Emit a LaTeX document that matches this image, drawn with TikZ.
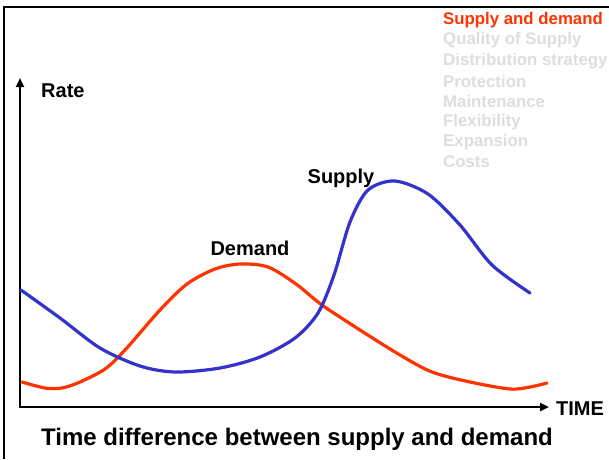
\documentclass[tikz,border=0pt]{standalone}
\usepackage{fontspec}
\setmainfont{Liberation Sans}
\usetikzlibrary{arrows.meta}
\definecolor{demandred}{HTML}{FF3300}
\definecolor{supplyblue}{HTML}{3333CC}
\definecolor{menugray}{HTML}{DDDDDD}

\begin{document}
\begin{tikzpicture}[x=1pt,y=-1pt,
        axis/.style={black,line width=2.2pt,-{Triangle[length=9pt,width=8pt]}},
        curve/.style={line width=3.2pt,line join=round,line cap=round},
        lbl/.style={font=\bfseries\fontsize{20}{22}\selectfont,inner sep=0pt},
        menu/.style={anchor=west,inner sep=0pt,menugray,font=\bfseries\fontsize{16.8}{18}\selectfont}]
        \useasboundingbox (0,0) rectangle (609,459);
        % frame
        \draw[black,line width=2.5pt] (4,459) -- (4,7) -- (609,7);

        % axes
        \coordinate (origin) at (20,407);
        \coordinate (ytop) at (20,78);
        \coordinate (xend) at (549,407);
        \draw[axis] (origin) -- (ytop);
        \draw[axis] ([xshift=-1.5pt]origin) -- (xend);
        \node[lbl,anchor=west] (rate) at (41,91) {Rate};
        \node[lbl,anchor=west] (time) at (556,409) {TIME};

        % curves
        \draw[curve,demandred] plot[smooth,tension=0.5] coordinates {(22,382) (45,388) (62,388) (80,382) (105,369) (125,350) (160,310) (187,284) (215,269) (240,264) (268,267) (296,284) (322,305) (360,330) (400,355) (432,372) (470,382) (510,389) (530,387) (547,383)};
        \draw[curve,supplyblue] plot[smooth,tension=0.5] coordinates {(21,290) (60,318) (100,348) (140,366) (175,372) (220,368) (260,357) (295,338) (318,313) (334,275) (350,222) (368,190) (395,181) (428,194) (460,225) (492,265) (530,293)};
        \node[lbl] (demand) at (250,248) {Demand};
        \node[lbl] (supply) at (341,178) {Supply};

        % caption
        \node[inner sep=0pt,font=\bfseries\fontsize{24}{26}\selectfont] (caption) at (297,439) {Time difference between supply and demand};

        % menu
        \node[menu,demandred] (m1) at (443,20) {Supply and demand};
        \node[menu] (m2) at (443,40) {Quality of Supply};
        \node[menu] (m3) at (443,61) {Distribution strategy};
        \node[menu] (m4) at (443,81) {Protection};
        \node[menu] (m5) at (443,101) {Maintenance};
        \node[menu] (m6) at (443,122) {Flexibility};
        \node[menu] (m7) at (443,142) {Expansion};
        \node[menu] (m8) at (443,162) {Costs};
    \end{tikzpicture}
\end{document}
